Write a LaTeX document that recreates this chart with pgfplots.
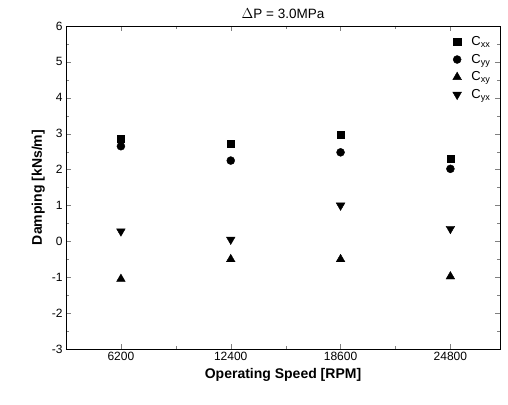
\documentclass[border=0pt]{standalone}
\usepackage{pgfplots}
\pgfplotsset{compat=1.18}
\usepackage{fontspec}
\setmainfont{Liberation Sans}
\begin{document}
\begin{tikzpicture}
\begin{axis}[
  scale only axis, width=434pt, height=323pt,
  xmin=3100, xmax=27600, ymin=-3, ymax=6,
  xtick={6200,12400,18600,24800},
  minor xtick={9300,15500,21700},
  ytick={-3,-2,...,6},
  minor y tick num=1,
  tick align=inside,
  major tick length=5pt, minor tick length=3pt,
  scaled x ticks=false,
  /pgf/number format/assume math mode=true,
  xticklabel style={/pgf/number format/.cd, fixed, set thousands separator={}},
  tick label style={font=\fontsize{12}{14}\selectfont},
  xlabel={\textbf{Operating Speed [RPM]}},
  ylabel={\textbf{Damping [kNs/m]}},
  label style={font=\fontsize{14}{16}\selectfont},
  title={$\Delta$P = 3.0MPa},
  title style={font=\fontsize{13.5}{15}\selectfont, yshift=-2pt},
  legend style={draw=none, fill=none, at={(0.99,0.98)}, anchor=north east, font=\fontsize{13}{15}\selectfont, row sep=3pt},
  legend cell align=left,
]
\addplot[only marks, black, mark=square*, mark options={draw=black, fill=black}, mark size=3.6pt] coordinates {(6200,2.85) (12400,2.73) (18600,2.97) (24800,2.3)};
\addlegendentry{\hspace{8pt}C$_{\mathrm{xx}}$}
\addplot[only marks, black, mark=*, mark options={draw=black, fill=black}, mark size=4pt] coordinates {(6200,2.65) (12400,2.25) (18600,2.48) (24800,2.02)};
\addlegendentry{\hspace{8pt}C$_{\mathrm{yy}}$}
\addplot[only marks, black, mark=triangle*, mark options={draw=black, fill=black}, mark size=5pt] coordinates {(6200,-1.05) (12400,-0.5) (18600,-0.5) (24800,-0.98)};
\addlegendentry{\hspace{8pt}C$_{\mathrm{xy}}$}
\addplot[only marks, black, mark=triangle*, mark options={draw=black, fill=black, rotate=180}, mark size=5pt] coordinates {(6200,0.28) (12400,0.05) (18600,1.0) (24800,0.35)};
\addlegendentry{\hspace{8pt}C$_{\mathrm{yx}}$}
\end{axis}
\path ([xshift=-66pt,yshift=-55pt]current axis.south west) rectangle ([xshift=8pt,yshift=26pt]current axis.north east);
\end{tikzpicture}
\end{document}
